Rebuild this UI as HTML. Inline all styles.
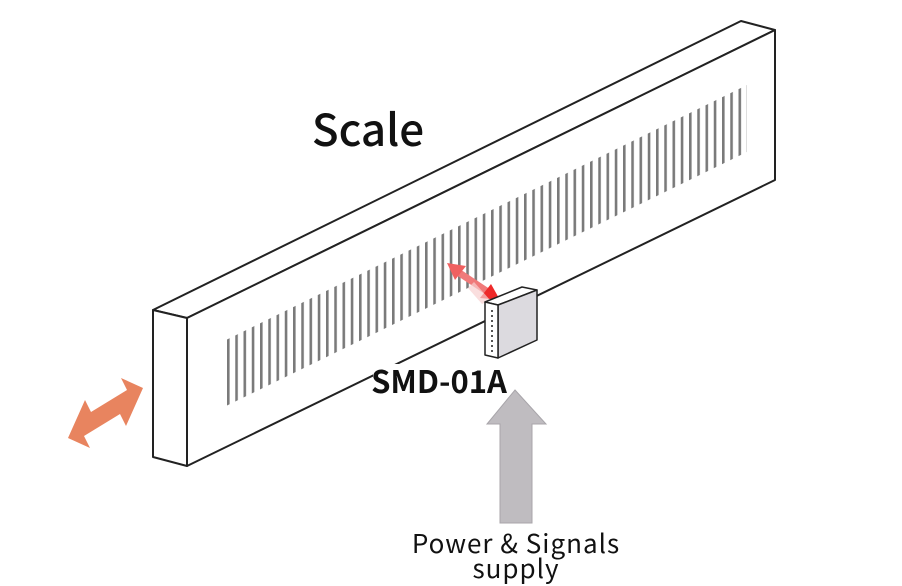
<!DOCTYPE html>
<html><head><meta charset="utf-8"><style>
html,body{margin:0;padding:0;background:#fff;}
svg{display:block;}
text{font-family:"Noto Sans CJK JP","Liberation Sans",sans-serif;}
</style></head><body>
<svg width="902" height="586" viewBox="0 0 902 586" xmlns="http://www.w3.org/2000/svg">
<defs>
<pattern id="st" patternUnits="userSpaceOnUse" x="227" y="0" width="8.25" height="20">
<rect x="0" y="0" width="2.6" height="20" fill="#7a7a7a"/>
</pattern>
</defs>
<g fill="#fff" stroke="#222" stroke-width="2" stroke-linejoin="round">
<polygon points="153,310 741,21 775,30 187,318"/>
<polygon points="187,318 775,30 775,180 187,466"/>
<polygon points="153,310 187,318 187,466 153,457"/>
</g>
<polygon points="226,340 747,85 747,152 226,406" fill="url(#st)"/>
<line x1="458" y1="272" x2="488" y2="292" stroke="#f07a7a" stroke-width="7"/>
<polygon points="447,263 466,266 455,280" fill="#f06060"/>
<polygon points="500,300 480,298 491,284" fill="#ee2a2a"/>
<polygon points="468,288 474,282 490,300 482,304" fill="#f8d0d0" opacity="0.7"/>
<g stroke="#222" stroke-width="1.5" stroke-linejoin="round">
<polygon points="485,302 522,287 537,290 498,305" fill="#fff"/>
<polygon points="498,305 537,290 537,340 498,358" fill="#dcdadf"/>
<polygon points="485,302 498,305 498,358 485,355" fill="#fff"/>
</g>
<line x1="492" y1="310" x2="492" y2="352" stroke="#555" stroke-width="2" stroke-dasharray="2,3"/>
<polygon points="143,388 126,426 120,414 84,436 90,448 68,438 85,400 91,412 127,390 121,378" fill="#e8845f"/>
<polygon points="515,390 546,424 532,424 532,523 500,523 500,424 487,424" fill="#bfbcc0" stroke="#a8a5aa" stroke-width="1"/>
<text x="368" y="146" font-size="44" font-weight="500" text-anchor="middle" fill="#111">Scale</text>
<rect x="373" y="364" width="136" height="32" fill="#fff"/>
<text x="439" y="393" font-size="31" font-weight="bold" text-anchor="middle" fill="#111">SMD-01A</text>
<text x="516" y="553" font-size="26" text-anchor="middle" fill="#111" letter-spacing="1">Power &amp; Signals</text>
<text x="516" y="578" font-size="26" text-anchor="middle" fill="#111" letter-spacing="1">supply</text>
</svg>
</body></html>
